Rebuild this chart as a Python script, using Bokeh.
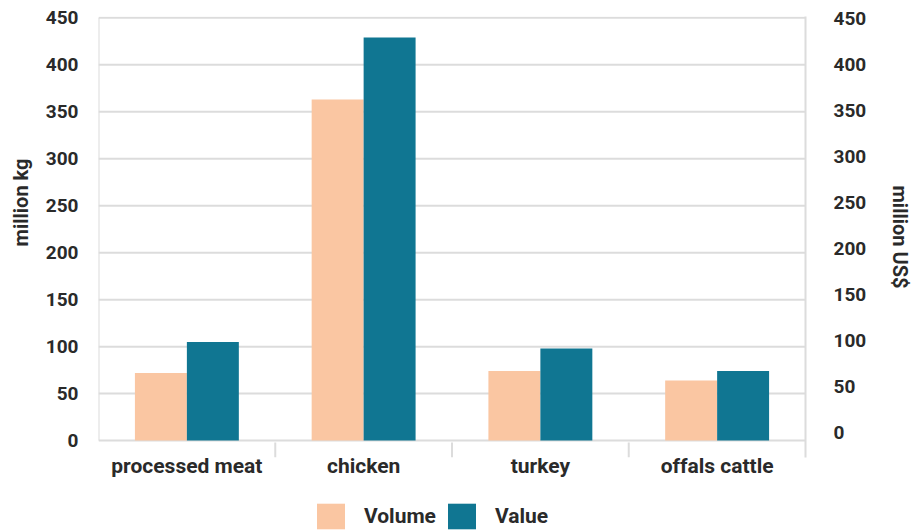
from bokeh.plotting import figure
from bokeh.layouts import column
from bokeh.models import (Range1d, FactorRange, LinearAxis, CategoricalAxis, FixedTicker,
                          ColumnDataSource, Legend, LegendItem, Title)
from bokeh.transform import dodge
from bokeh.embed import file_html
from bokeh.resources import INLINE

# Export volume and value by product
categories = ["processed meat", "chicken", "turkey", "offals cattle"]
volume_mkg = [72, 363, 74, 64]
value_musd = [105, 429, 98, 74]
y_ticks = [0, 50, 100, 150, 200, 250, 300, 350, 400, 450]
series_names = ["Volume", "Value"]
left_title = "million kg"
right_title = "million US$"

PEACH = "#FAC6A2"
TEAL = "#107692"
TEXT = "#2a2a2a"
GRID = "#dcdcdc"
FONT = "Roboto"

src = ColumnDataSource(dict(cat=categories, volume=volume_mkg, value=value_musd))

p = figure(width=915, height=495, output_backend="svg", toolbar_location=None,
           x_range=FactorRange(*categories, range_padding=0),
           y_range=Range1d(-18, 451.4),
           x_axis_location=None, y_axis_location=None,
           min_border_left=98, min_border_right=109, min_border_top=16, min_border_bottom=38)
p.outline_line_color = None
p.background_fill_color = "white"
p.border_fill_color = "white"

# secondary scale for the value axis
p.extra_y_ranges = {"usd": Range1d(-27.2, 452.5)}

bar_w = 0.294
p.vbar(x=dodge("cat", -bar_w / 2, range=p.x_range), top="volume", bottom=0,
       width=bar_w, source=src, fill_color=PEACH, line_color=None)
p.vbar(x=dodge("cat", bar_w / 2, range=p.x_range), top="value", bottom=0,
       width=bar_w, source=src, fill_color=TEAL, line_color=None)

p.xgrid.visible = False
p.ygrid.visible = False

def style_axis(ax, size="19px"):
    ax.major_label_text_font = FONT
    ax.major_label_text_font_style = "bold"
    ax.major_label_text_font_size = size
    ax.major_label_text_color = TEXT
    ax.axis_label_text_font = FONT
    ax.axis_label_text_font_style = "bold"
    ax.axis_label_text_font_size = "20px"
    ax.axis_label_text_color = TEXT
    ax.major_tick_line_color = None
    ax.minor_tick_line_color = None

left = LinearAxis(ticker=FixedTicker(ticks=y_ticks))
style_axis(left)
left.axis_line_color = None
left.major_label_standoff = 14
p.add_layout(left, "left")

right = LinearAxis(y_range_name="usd", ticker=FixedTicker(ticks=y_ticks), axis_label=right_title)
style_axis(right)
right.axis_line_color = GRID
right.axis_line_width = 2
right.major_label_standoff = 22
right.axis_label_standoff = 19
p.add_layout(right, "right")

bottom = CategoricalAxis()
style_axis(bottom, "21px")
bottom.axis_line_color = None
bottom.major_label_standoff = -4
bottom.major_tick_out = 0
bottom.major_tick_in = 0
p.add_layout(bottom, "below")

# left axis title, set above the frame's midpoint and toward the outer edge
p.add_layout(Title(text=left_title, align="right", offset=142, standoff=15,
                   vertical_align="top",
                   text_font=FONT, text_font_style="bold", text_font_size="20px",
                   text_color=TEXT), "left")

# grid lines drawn at the tick values across the frame
n = len(categories)
p.segment(x0=[0] * len(y_ticks), x1=[n] * len(y_ticks), y0=y_ticks, y1=y_ticks,
          line_color=GRID, line_width=2, level="underlay")
# left edge line
p.segment(x0=[0], x1=[0], y0=[0], y1=[y_ticks[-1]], line_color=GRID, line_width=2, level="underlay")
# category separators below the baseline
seps = list(range(1, n))
p.segment(x0=seps, x1=seps, y0=[-2] * len(seps), y1=[p.y_range.start] * len(seps),
          line_color=GRID, line_width=2)

# legend strip under the chart; its key renderers share the data but lie outside its view
lg = figure(width=915, height=37, output_backend="svg", toolbar_location=None,
            x_range=p.x_range, y_range=Range1d(100000, 100001),
            x_axis_location=None, y_axis_location=None,
            min_border_left=0, min_border_right=0, min_border_top=0, min_border_bottom=0)
lg.outline_line_color = None
lg.xgrid.visible = False
lg.ygrid.visible = False
key_vol = lg.vbar(x="cat", top="volume", bottom=0, width=bar_w, source=src,
                  fill_color=PEACH, line_color=None)
key_val = lg.vbar(x="cat", top="value", bottom=0, width=bar_w, source=src,
                  fill_color=TEAL, line_color=None)

legend = Legend(items=[LegendItem(label=series_names[0], renderers=[key_vol]),
                       LegendItem(label=series_names[1], renderers=[key_val])],
                orientation="horizontal", location=(215, 0))
legend.glyph_width = 35
legend.glyph_height = 32
legend.label_standoff = 16
legend.spacing = 8
legend.padding = 0
legend.margin = 0
legend.border_line_color = None
legend.background_fill_alpha = 0
legend.label_text_font = FONT
legend.label_text_font_style = "bold"
legend.label_text_font_size = "21px"
legend.label_text_color = TEXT
lg.add_layout(legend, "center")

open("out.html", "w").write(file_html(column(p, lg, spacing=0), INLINE))
